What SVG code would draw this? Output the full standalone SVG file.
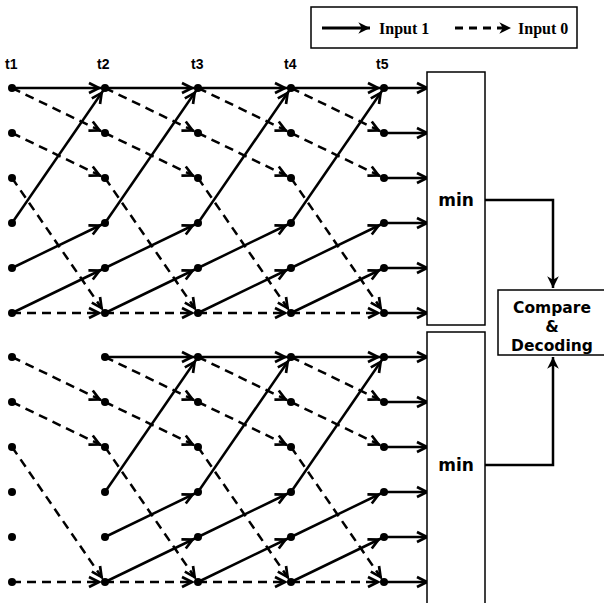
<svg xmlns="http://www.w3.org/2000/svg" width="604" height="603" viewBox="0 0 604 603">
<style>
.s{stroke:#000;stroke-width:2.5;fill:none;marker-end:url(#ah)}
.d{stroke:#000;stroke-width:2.5;fill:none;stroke-dasharray:9 6;marker-end:url(#ah)}
.o{stroke:#000;stroke-width:2.5;fill:none;marker-end:url(#ao)}
.box{fill:#fff;stroke:#000;stroke-width:1.5}
.lbl{font-family:"Liberation Sans",Arial,sans-serif;font-weight:bold;font-size:14px}
.big{font-family:"DejaVu Sans",sans-serif;font-weight:bold;font-size:17px;text-anchor:middle}
.cmp{font-family:"DejaVu Sans",sans-serif;font-weight:bold;font-size:15.5px;text-anchor:middle}
.leg{font-family:"Liberation Serif",serif;font-weight:bold;font-size:16px}
circle{fill:#000}
</style>
<defs>
<marker id="ah" markerUnits="userSpaceOnUse" markerWidth="30" markerHeight="14" refX="16" refY="5" orient="auto" viewBox="-2 -2 30 14">
<path d="M0,0 L10,5 L0,10" fill="none" stroke="#000" stroke-width="2.7" stroke-dasharray="none"/>
</marker>
<marker id="ao" markerUnits="userSpaceOnUse" markerWidth="16" markerHeight="14" refX="10" refY="5" orient="auto" viewBox="-2 -2 16 14">
<path d="M0,0 L10,5 L0,10" fill="none" stroke="#000" stroke-width="2.7" stroke-dasharray="none"/>
</marker>
<marker id="af" markerUnits="userSpaceOnUse" markerWidth="14" markerHeight="14" refX="10" refY="5" orient="auto" viewBox="0 0 12 12">
<path d="M0,0 L10,5 L0,10 L3,5 z" fill="#000"/>
</marker>
</defs>

<g id="legend">
<rect class="box" x="311" y="7" width="266" height="41"/>
<path d="M322,28 H370" stroke="#000" stroke-width="3" marker-end="url(#af)"/>
<text class="leg" x="379" y="34">Input 1</text>
<path d="M455,28 H511" stroke="#000" stroke-width="3" stroke-dasharray="8 6" marker-end="url(#af)"/>
<text class="leg" x="518" y="34">Input 0</text>
</g>

<g id="time-labels">
<text class="lbl" x="5" y="69">t1</text>
<text class="lbl" x="97" y="69">t2</text>
<text class="lbl" x="191" y="69">t3</text>
<text class="lbl" x="284" y="69">t4</text>
<text class="lbl" x="376" y="69">t5</text>
</g>

<g id="connectors">
<!-- upper trellis -->
<path class="s" d="M12,88 L105,88"/><path class="s" d="M12,223 L105,88"/><path class="s" d="M12,268 L105,223"/><path class="s" d="M12,313 L105,268"/>
<path class="d" d="M12,88 L105,133"/><path class="d" d="M12,133 L105,178"/><path class="d" d="M12,178 L105,313"/><path class="d" d="M12,313 L105,313"/>
<path class="s" d="M105,88 L198,88"/><path class="s" d="M105,223 L198,88"/><path class="s" d="M105,268 L198,223"/><path class="s" d="M105,313 L198,268"/>
<path class="d" d="M105,88 L198,133"/><path class="d" d="M105,133 L198,178"/><path class="d" d="M105,178 L198,313"/><path class="d" d="M105,313 L198,313"/>
<path class="s" d="M198,88 L291,88"/><path class="s" d="M198,223 L291,88"/><path class="s" d="M198,268 L291,223"/><path class="s" d="M198,313 L291,268"/>
<path class="d" d="M198,88 L291,133"/><path class="d" d="M198,133 L291,178"/><path class="d" d="M198,178 L291,313"/><path class="d" d="M198,313 L291,313"/>
<path class="s" d="M291,88 L384,88"/><path class="s" d="M291,223 L384,88"/><path class="s" d="M291,268 L384,223"/><path class="s" d="M291,313 L384,268"/>
<path class="d" d="M291,88 L384,133"/><path class="d" d="M291,133 L384,178"/><path class="d" d="M291,178 L384,313"/><path class="d" d="M291,313 L384,313"/>
<path class="o" d="M384,88 H427"/><path class="o" d="M384,133 H427"/><path class="o" d="M384,178 H427"/><path class="o" d="M384,223 H427"/><path class="o" d="M384,268 H427"/><path class="o" d="M384,313 H427"/>
<!-- lower trellis -->
<path class="d" d="M12,357 L105,402"/><path class="d" d="M12,402 L105,447"/><path class="d" d="M12,447 L105,582"/><path class="d" d="M12,582 L105,582"/>
<path class="s" d="M105,357 L198,357"/><path class="s" d="M105,492 L198,357"/><path class="s" d="M105,537 L198,492"/><path class="s" d="M105,582 L198,537"/>
<path class="d" d="M105,357 L198,402"/><path class="d" d="M105,402 L198,447"/><path class="d" d="M105,447 L198,582"/><path class="d" d="M105,582 L198,582"/>
<path class="s" d="M198,357 L291,357"/><path class="s" d="M198,492 L291,357"/><path class="s" d="M198,537 L291,492"/><path class="s" d="M198,582 L291,537"/>
<path class="d" d="M198,357 L291,402"/><path class="d" d="M198,402 L291,447"/><path class="d" d="M198,447 L291,582"/><path class="d" d="M198,582 L291,582"/>
<path class="s" d="M291,357 L384,357"/><path class="s" d="M291,492 L384,357"/><path class="s" d="M291,537 L384,492"/><path class="s" d="M291,582 L384,537"/>
<path class="d" d="M291,357 L384,402"/><path class="d" d="M291,402 L384,447"/><path class="d" d="M291,447 L384,582"/><path class="d" d="M291,582 L384,582"/>
<path class="o" d="M384,357 H427"/><path class="o" d="M384,402 H427"/><path class="o" d="M384,447 H427"/><path class="o" d="M384,492 H427"/><path class="o" d="M384,537 H427"/><path class="o" d="M384,582 H427"/>
<!-- min to compare -->
<path d="M485,200 H553 V288" fill="none" stroke="#000" stroke-width="2.5" marker-end="url(#af)"/>
<path d="M485,465 H553 V357" fill="none" stroke="#000" stroke-width="2.5" marker-end="url(#af)"/>
</g>

<g id="states-upper">
<circle cx="12" cy="88" r="4"/><circle cx="12" cy="133" r="4"/><circle cx="12" cy="178" r="4"/><circle cx="12" cy="223" r="4"/><circle cx="12" cy="268" r="4"/><circle cx="12" cy="313" r="4"/>
<circle cx="105" cy="88" r="4"/><circle cx="105" cy="133" r="4"/><circle cx="105" cy="178" r="4"/><circle cx="105" cy="223" r="4"/><circle cx="105" cy="268" r="4"/><circle cx="105" cy="313" r="4"/>
<circle cx="198" cy="88" r="4"/><circle cx="198" cy="133" r="4"/><circle cx="198" cy="178" r="4"/><circle cx="198" cy="223" r="4"/><circle cx="198" cy="268" r="4"/><circle cx="198" cy="313" r="4"/>
<circle cx="291" cy="88" r="4"/><circle cx="291" cy="133" r="4"/><circle cx="291" cy="178" r="4"/><circle cx="291" cy="223" r="4"/><circle cx="291" cy="268" r="4"/><circle cx="291" cy="313" r="4"/>
<circle cx="384" cy="88" r="4"/><circle cx="384" cy="133" r="4"/><circle cx="384" cy="178" r="4"/><circle cx="384" cy="223" r="4"/><circle cx="384" cy="268" r="4"/><circle cx="384" cy="313" r="4"/>
</g>
<g id="states-lower">
<circle cx="12" cy="357" r="4"/><circle cx="12" cy="402" r="4"/><circle cx="12" cy="447" r="4"/><circle cx="12" cy="492" r="4"/><circle cx="12" cy="537" r="4"/><circle cx="12" cy="582" r="4"/>
<circle cx="105" cy="357" r="4"/><circle cx="105" cy="402" r="4"/><circle cx="105" cy="447" r="4"/><circle cx="105" cy="492" r="4"/><circle cx="105" cy="537" r="4"/><circle cx="105" cy="582" r="4"/>
<circle cx="198" cy="357" r="4"/><circle cx="198" cy="402" r="4"/><circle cx="198" cy="447" r="4"/><circle cx="198" cy="492" r="4"/><circle cx="198" cy="537" r="4"/><circle cx="198" cy="582" r="4"/>
<circle cx="291" cy="357" r="4"/><circle cx="291" cy="402" r="4"/><circle cx="291" cy="447" r="4"/><circle cx="291" cy="492" r="4"/><circle cx="291" cy="537" r="4"/><circle cx="291" cy="582" r="4"/>
<circle cx="384" cy="357" r="4"/><circle cx="384" cy="402" r="4"/><circle cx="384" cy="447" r="4"/><circle cx="384" cy="492" r="4"/><circle cx="384" cy="537" r="4"/><circle cx="384" cy="582" r="4"/>
</g>

<g id="min-upper">
<rect class="box" x="427" y="72" width="58" height="253"/>
<text class="big" x="456" y="206">min</text>
</g>
<g id="min-lower">
<rect class="box" x="427" y="332" width="58" height="280"/>
<text class="big" x="456" y="471">min</text>
</g>
<g id="compare-decoding">
<rect class="box" x="498" y="290" width="110" height="65"/>
<text class="cmp" x="552" y="313">Compare</text>
<text class="cmp" x="552" y="332">&amp;</text>
<text class="cmp" x="552" y="351">Decoding</text>
</g>
</svg>
